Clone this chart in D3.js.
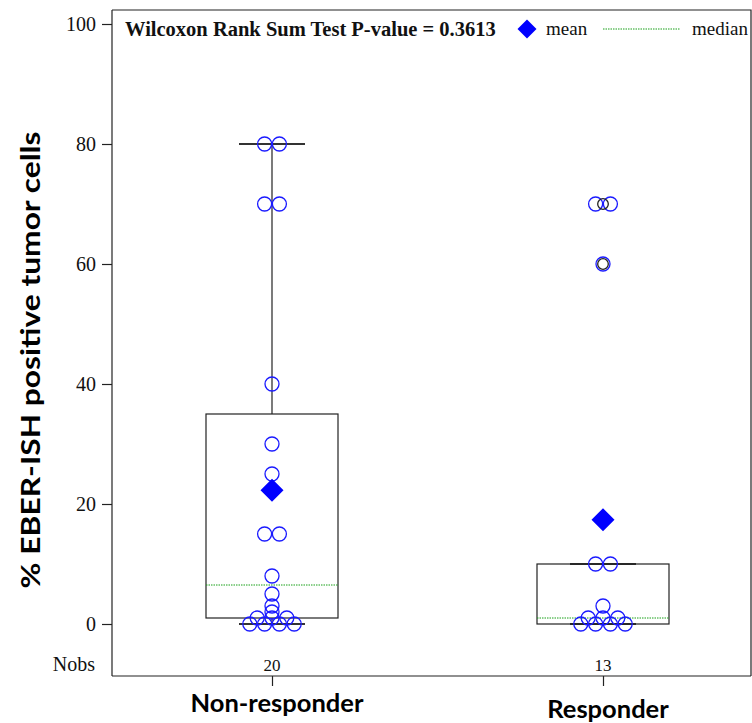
<!DOCTYPE html>
<html>
<head>
<meta charset="utf-8">
<script src="https://cdn.jsdelivr.net/npm/d3@7"></script>
<style>
  html, body { margin: 0; padding: 0; background: #fff; }
  svg { display: block; }
</style>
</head>
<body>
<svg id="chart" width="752" height="723"></svg>
<script>
// Groups and their observations (% EBER-ISH positive tumor cells)
const groups = ["Non-responder", "Responder"];
const nonResponder = [80, 80, 70, 70, 40, 30, 25, 15, 15, 8, 5, 3, 2, 1, 1, 1, 0, 0, 0, 0];
const responder = [70, 70, 60, 10, 10, 3, 1, 1, 1, 0, 0, 0, 0];
const yTicks = [0, 20, 40, 60, 80, 100];
const pValueText = "Wilcoxon Rank Sum Test P-value = 0.3613";
const yTitle = "% EBER-ISH positive tumor cells";

const seriesValues = [nonResponder, responder];

const svg = d3.select("#chart");
const frame = { left: 112, top: 10, right: 751, bottom: 676 };

const x = d3.scalePoint().domain(groups).range([272, 603]);
const y = d3.scaleLinear().domain([0, 100]).range([624, 24]);

const serif = "'Liberation Serif', 'Times New Roman', serif";
const sans = "Lato, 'Open Sans', sans-serif";
const BLUE = "#1a1aff";

// frame lines (top, right)
svg.append("path")
  .attr("d", `M${frame.left},${frame.top}H${frame.right}V${frame.bottom}`)
  .attr("fill", "none").attr("stroke", "#222").attr("stroke-width", 1.2);

// y axis
const yAxis = d3.axisLeft(y).tickValues(yTicks).tickSize(10).tickPadding(6).tickFormat(d3.format("d"));
const gy = svg.append("g").attr("transform", `translate(${frame.left},0)`).call(yAxis);
gy.select(".domain").attr("d", `M0,${frame.top}V${frame.bottom}`).attr("stroke", "#222").attr("stroke-width", 1.2);
gy.selectAll(".tick line").attr("stroke", "#222").attr("stroke-width", 1.2);
gy.selectAll(".tick text").attr("font-family", serif).attr("font-size", 20).attr("fill", "#111").attr("dy", "0.33em");

// x axis
const xAxis = d3.axisBottom(x).tickSize(10).tickFormat("");
const gx = svg.append("g").attr("transform", `translate(0,${frame.bottom})`).call(xAxis);
gx.select(".domain").attr("d", `M${frame.left},0H${frame.right}`).attr("stroke", "#222").attr("stroke-width", 1.2);
gx.selectAll(".tick line").attr("stroke", "#222").attr("stroke-width", 1.2);

// category labels (bold)
const labelBase = [712, 718];
svg.selectAll("text.cat").data(groups).join("text")
  .attr("class", "cat")
  .attr("x", d => x(d) + 5)
  .attr("y", (d, i) => labelBase[i])
  .attr("text-anchor", "middle")
  .attr("font-family", sans).attr("font-weight", "bold").attr("font-size", 25.5)
  .attr("fill", "#000")
  .text(d => d);

// y title, stretched along its length
svg.append("text")
  .attr("transform", `translate(40,360) rotate(-90) scale(1.22,1)`)
  .attr("text-anchor", "middle")
  .attr("font-family", sans).attr("font-weight", "bold").attr("font-size", 26)
  .attr("fill", "#000")
  .text(yTitle);

// Nobs row
svg.append("text").attr("x", 95).attr("y", 671).attr("text-anchor", "end")
  .attr("font-family", serif).attr("font-size", 20).attr("fill", "#111").text("Nobs");
svg.selectAll("text.nobs").data(groups).join("text")
  .attr("class", "nobs")
  .attr("x", d => x(d)).attr("y", 671).attr("text-anchor", "middle")
  .attr("font-family", serif).attr("font-size", 17).attr("fill", "#111")
  .text((d, i) => seriesValues[i].length);

// percentile with averaging at exact ranks (empirical distribution definition)
function pct(sorted, p) {
  const n = sorted.length, np = n * p, j = Math.floor(np);
  if (np === j) return (sorted[j - 1] + sorted[j]) / 2;
  return sorted[j];
}
function stats(vals) {
  const s = vals.slice().sort(d3.ascending);
  const q1 = pct(s, 0.25), med = pct(s, 0.5), q3 = pct(s, 0.75);
  const iqr = q3 - q1;
  const lo = d3.min(s.filter(v => v >= q1 - 1.5 * iqr));
  const hi = d3.max(s.filter(v => v <= q3 + 1.5 * iqr));
  const out = Array.from(new Set(s.filter(v => v < lo || v > hi)));
  return { q1, med, q3, lo, hi, out, mean: d3.mean(s) };
}
const boxHalf = 66, capHalf = 33;

groups.forEach((g, i) => {
  const st = stats(seriesValues[i]);
  const cx = x(g);
  const gg = svg.append("g");
  // whiskers
  gg.append("line").attr("x1", cx).attr("x2", cx).attr("y1", y(st.q3)).attr("y2", y(st.hi))
    .attr("stroke", "#222").attr("stroke-width", 1.2);
  gg.append("line").attr("x1", cx).attr("x2", cx).attr("y1", y(st.q1)).attr("y2", y(st.lo))
    .attr("stroke", "#222").attr("stroke-width", 1.2);
  [st.hi, st.lo].forEach(v => {
    gg.append("line").attr("x1", cx - capHalf).attr("x2", cx + capHalf).attr("y1", y(v)).attr("y2", y(v))
      .attr("stroke", "#333").attr("stroke-width", 1.8);
  });
  // box
  gg.append("rect").attr("x", cx - boxHalf).attr("width", boxHalf * 2)
    .attr("y", y(st.q3)).attr("height", y(st.q1) - y(st.q3))
    .attr("fill", "none").attr("stroke", "#222").attr("stroke-width", 1.2);
  // median
  gg.append("line").attr("x1", cx - boxHalf).attr("x2", cx + boxHalf).attr("y1", y(st.med)).attr("y2", y(st.med))
    .attr("stroke", "#18a018").attr("stroke-width", 1).attr("stroke-dasharray", "1.5,1");

  // points: equal values spread side by side around the group centre
  const spacing = 14.8;
  const counts = d3.rollup(seriesValues[i], v => v.length, v => v);
  const pts = [];
  counts.forEach((n, v) => { for (let k = 0; k < n; k++) pts.push({ v, off: (k - (n - 1) / 2) * spacing }); });
  gg.selectAll("circle.pt").data(pts).join("circle")
    .attr("class", "pt")
    .attr("cx", d => cx + d.off).attr("cy", d => y(d.v)).attr("r", 7)
    .attr("fill", "none").attr("stroke", BLUE).attr("stroke-width", 1.3);

  // outliers
  gg.selectAll("circle.out").data(st.out).join("circle")
    .attr("class", "out")
    .attr("cx", cx).attr("cy", d => y(d)).attr("r", 5.3)
    .attr("fill", "none").attr("stroke", "#222").attr("stroke-width", 1.3);

  // mean diamond
  const m = 11.5;
  gg.append("path")
    .attr("d", `M${cx},${y(st.mean) - m}L${cx + m},${y(st.mean)}L${cx},${y(st.mean) + m}L${cx - m},${y(st.mean)}Z`)
    .attr("fill", "#0000ff");
});

// header: test result and legend
svg.append("text").attr("x", 125).attr("y", 36)
  .attr("font-family", serif).attr("font-weight", "bold").attr("font-size", 20.5).attr("fill", "#111")
  .text(pValueText);
const lm = 9.5, lx = 527, ly = 29;
svg.append("path").attr("d", `M${lx},${ly - lm}L${lx + lm},${ly}L${lx},${ly + lm}L${lx - lm},${ly}Z`).attr("fill", "#0000ff");
svg.append("text").attr("x", 546).attr("y", 35).attr("font-family", serif).attr("font-size", 19).attr("fill", "#111").text("mean");
svg.append("line").attr("x1", 603).attr("x2", 680).attr("y1", 29).attr("y2", 29)
  .attr("stroke", "#18a018").attr("stroke-width", 1).attr("stroke-dasharray", "1.5,1");
svg.append("text").attr("x", 692).attr("y", 35).attr("font-family", serif).attr("font-size", 19).attr("fill", "#111").text("median");
</script>
</body>
</html>
